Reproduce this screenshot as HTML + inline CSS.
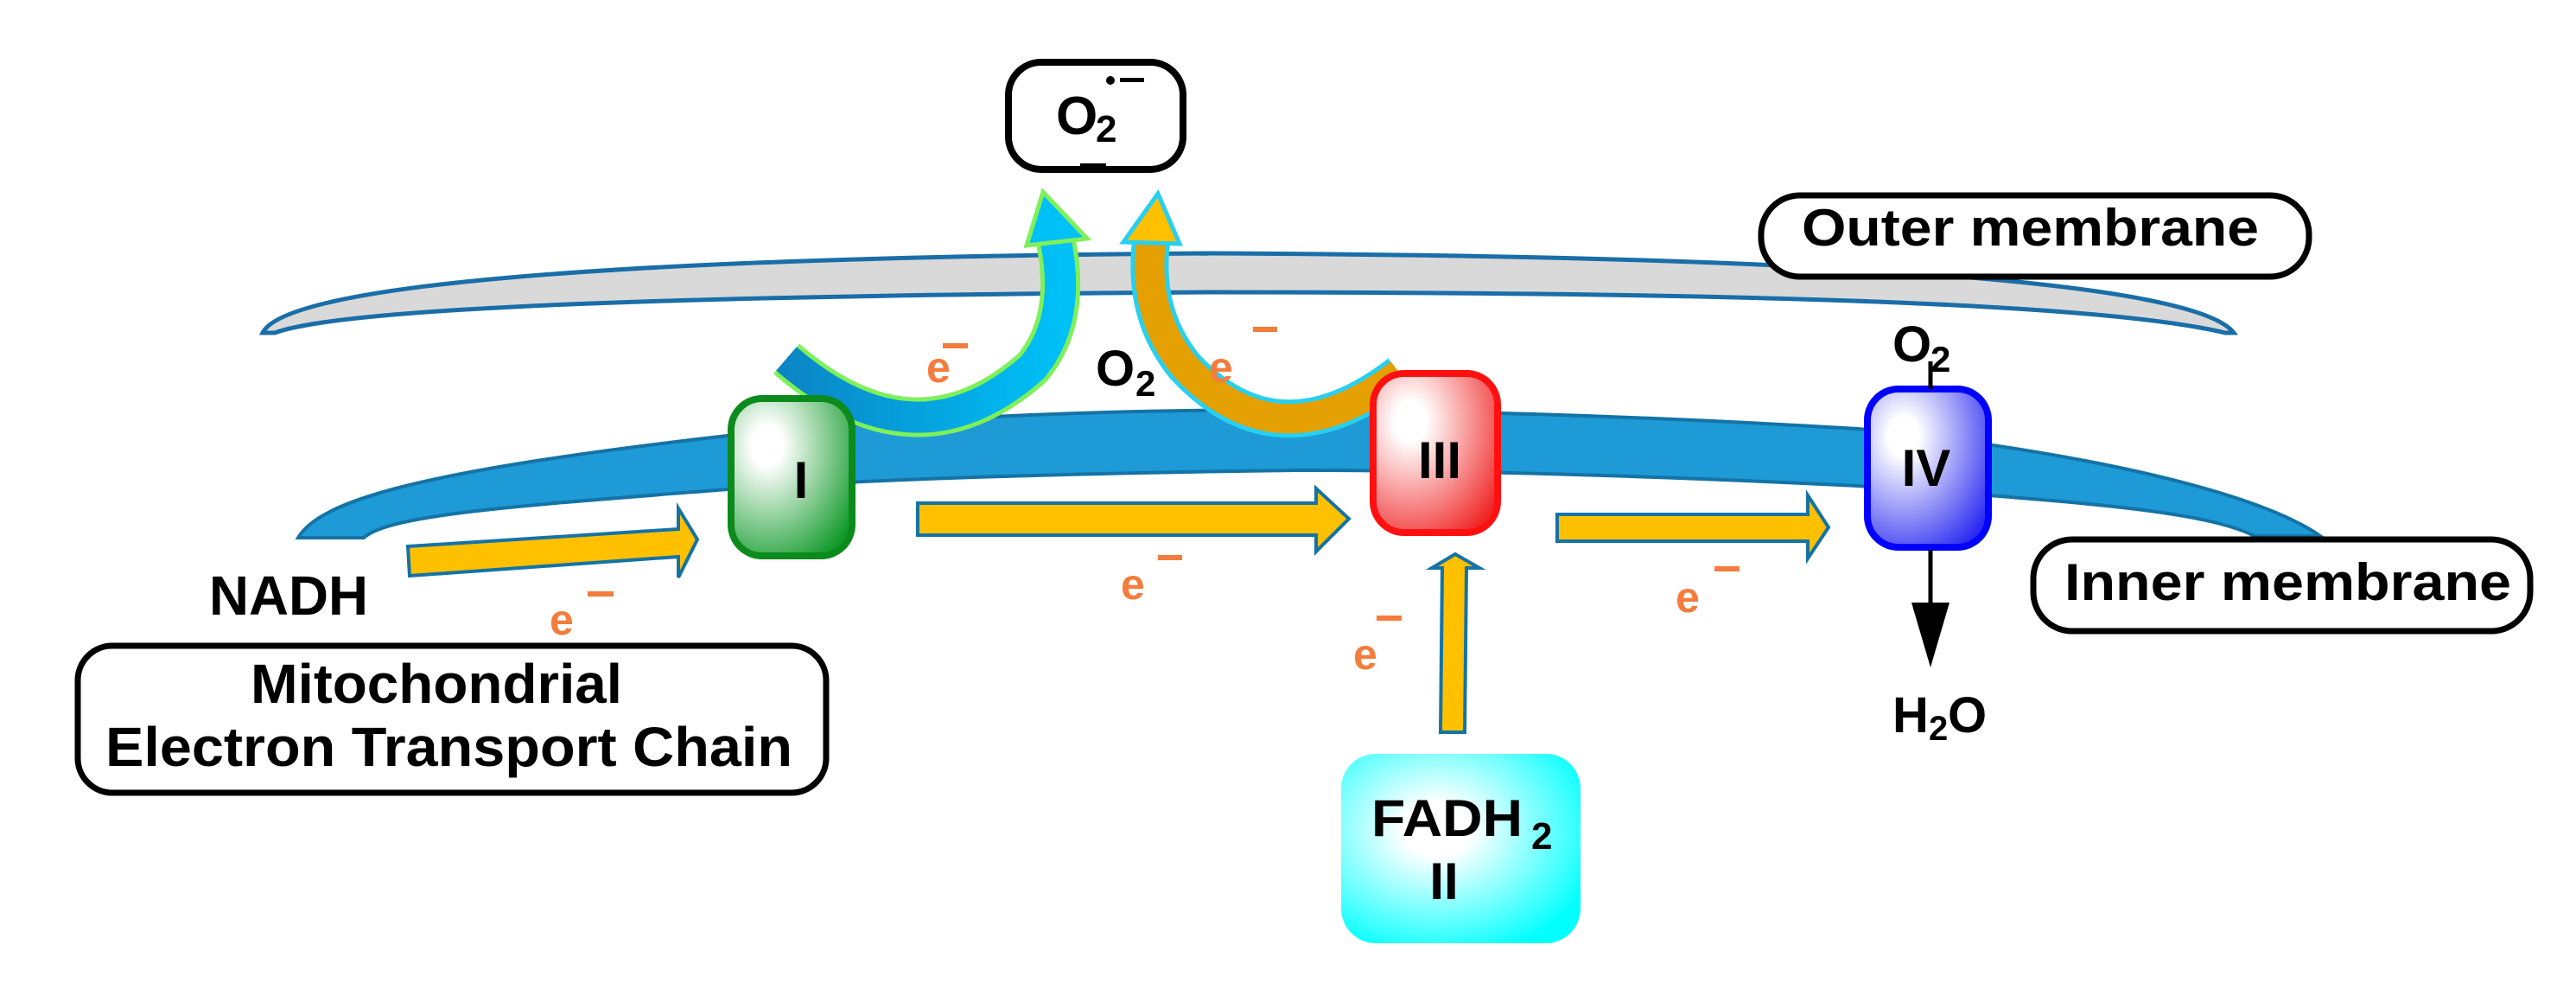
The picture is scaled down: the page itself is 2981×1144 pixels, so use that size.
<!DOCTYPE html>
<html><head><meta charset="utf-8"><style>
html,body{margin:0;padding:0;background:#fff;}
svg{display:block;}
text{font-family:"Liberation Sans",Arial,sans-serif;font-weight:bold;}
</style></head><body>
<svg width="2981" height="1144" viewBox="0 0 2981 1144" xmlns="http://www.w3.org/2000/svg">
<defs>
<radialGradient id="gI" cx="0.3" cy="0.3" r="0.85"><stop offset="0.15" stop-color="#fff"/><stop offset="1" stop-color="#119a2a"/></radialGradient>
<radialGradient id="gIII" cx="0.3" cy="0.3" r="0.85"><stop offset="0.15" stop-color="#fff"/><stop offset="1" stop-color="#f02828"/></radialGradient>
<radialGradient id="gIV" cx="0.3" cy="0.3" r="0.85"><stop offset="0.15" stop-color="#fff"/><stop offset="1" stop-color="#2a2af0"/></radialGradient>
<radialGradient id="gII" cx="0.4" cy="0.4" r="0.7"><stop offset="0.2" stop-color="#fff"/><stop offset="1" stop-color="#00ffff"/></radialGradient>
<linearGradient id="gL" x1="0" y1="0" x2="1" y2="0"><stop offset="0" stop-color="#0a86c4"/><stop offset="1" stop-color="#00c0f8"/></linearGradient>
</defs>

<!-- outer membrane -->
<path d="M304 385 C330 330 700 298 1398 293 C2100 296 2540 325 2585 385 L2575 385 C2450 355 2100 338 1398 338 C800 342 400 355 318 385 Z" fill="#d9d9d9" stroke="#1a6ea8" stroke-width="5"/>

<!-- inner membrane -->
<path d="M345 622 C370 580 480 545 842 504 C1100 480 1300 474 1500 474 C1800 476 2050 490 2150 496 C2350 515 2600 560 2685 620 L2609 620 C2550 590 2400 580 2150 562 C1900 550 1700 544 1500 544 C1200 548 1000 555 842 566 C600 585 450 595 421 622 Z" fill="#1e9ad6" stroke="#1473a6" stroke-width="4"/>

<!-- left curved arrow -->
<path d="M910 415 Q1060 545 1195 425 Q1240 370 1222 280" fill="none" stroke="#7ef05a" stroke-width="46" stroke-linecap="butt"/>
<path d="M910 415 Q1060 545 1195 425 Q1240 370 1222 280" fill="none" stroke="url(#gL)" stroke-width="36" stroke-linecap="butt"/>
<polygon points="1207,222 1188,284 1258,276" fill="#00c0f8" stroke="#7ef05a" stroke-width="5"/>

<!-- right curved arrow -->
<path d="M1620 432 Q1480 540 1372 425 Q1322 365 1332 280" fill="none" stroke="#27d0f0" stroke-width="44"/>
<path d="M1620 432 Q1480 540 1372 425 Q1322 365 1332 280" fill="none" stroke="#e3a000" stroke-width="34"/>
<polygon points="1340,224 1300,280 1365,282" fill="#ffc000" stroke="#27d0f0" stroke-width="5"/>

<!-- O2 superoxide box -->
<rect x="1167" y="72" width="202" height="124" rx="38" fill="#fff" stroke="#000" stroke-width="8"/>
<text x="1222" y="155" font-size="62">O</text>
<text x="1268" y="164" font-size="44">2</text>
<circle cx="1285" cy="93" r="5" fill="#000"/>
<rect x="1296" y="90" width="28" height="5" fill="#000"/>
<rect x="1250" y="189" width="30" height="5" fill="#000"/>

<!-- yellow arrows -->
<polygon points="472,632 785,612 785,588 807,624 785,668 785,644 474,666" fill="#ffc000" stroke="#1473a6" stroke-width="4"/>
<polygon points="1062,582 1523,582 1523,565 1561,600 1523,638 1523,619 1062,619" fill="#ffc000" stroke="#1473a6" stroke-width="4"/>
<polygon points="1802,595 2092,595 2092,573 2116,610 2092,646 2092,626 1802,626" fill="#ffc000" stroke="#1473a6" stroke-width="4"/>
<polygon points="1667,847 1669,657 1657,657 1684,641 1712,657 1697,657 1695,847" fill="#ffc000" stroke="#1473a6" stroke-width="4"/>

<!-- complexes -->
<rect x="846" y="461" width="140" height="182" rx="36" fill="url(#gI)" stroke="#0c8a1c" stroke-width="8"/>
<text x="927" y="576" font-size="60" text-anchor="middle">I</text>
<rect x="1589" y="432" width="144" height="184" rx="36" fill="url(#gIII)" stroke="#ff1010" stroke-width="8"/>
<text x="1666" y="553" font-size="60" text-anchor="middle">III</text>
<rect x="2161" y="450" width="140" height="183" rx="36" fill="url(#gIV)" stroke="#0000ff" stroke-width="8"/>
<text x="2229" y="562" font-size="60" text-anchor="middle">IV</text>

<!-- FADH2 box -->
<rect x="1552" y="872" width="277" height="219" rx="40" fill="url(#gII)"/>
<text x="1587" y="967" font-size="60" textLength="175" lengthAdjust="spacingAndGlyphs">FADH</text>
<text x="1772" y="982" font-size="44">2</text>
<text x="1671" y="1040" font-size="60" text-anchor="middle">II</text>

<!-- IV O2 / H2O -->
<line x1="2234" y1="418" x2="2234" y2="450" stroke="#000" stroke-width="5"/>
<text x="2190" y="418" font-size="58">O</text>
<text x="2234" y="430" font-size="42">2</text>
<line x1="2234" y1="636" x2="2234" y2="705" stroke="#000" stroke-width="5"/>
<polygon points="2212,697 2256,697 2234,772" fill="#000"/>
<text x="2190" y="847" font-size="58">H</text>
<text x="2232" y="856" font-size="40">2</text>
<text x="2254" y="847" font-size="58">O</text>

<!-- middle O2 -->
<text x="1268" y="446" font-size="58">O</text>
<text x="1314" y="458" font-size="42">2</text>

<!-- e- labels -->
<g fill="#f47c3c">
<text x="636" y="734" font-size="50">e</text><rect x="680" y="684" width="30" height="6"/>
<text x="1297" y="693" font-size="50">e</text><rect x="1340" y="642" width="28" height="6"/>
<text x="1939" y="708" font-size="50">e</text><rect x="1984" y="655" width="29" height="6"/>
<text x="1566" y="774" font-size="50">e</text><rect x="1593" y="712" width="29" height="6"/>
<text x="1072" y="442" font-size="50">e</text><rect x="1091" y="397" width="29" height="6"/>
<text x="1399" y="442" font-size="50">e</text><rect x="1450" y="378" width="28" height="6"/>
</g>

<!-- NADH -->
<text x="242" y="711" font-size="64" textLength="184" lengthAdjust="spacingAndGlyphs">NADH</text>

<!-- Mitochondrial box -->
<rect x="90" y="747" width="866" height="170" rx="40" fill="#fff" stroke="#000" stroke-width="7"/>
<text x="290" y="813" font-size="64" textLength="430" lengthAdjust="spacingAndGlyphs">Mitochondrial</text>
<text x="122" y="886" font-size="64" textLength="795" lengthAdjust="spacingAndGlyphs">Electron Transport Chain</text>

<!-- Outer membrane box -->
<rect x="2038" y="226" width="634" height="94" rx="45" fill="#fff" stroke="#000" stroke-width="7"/>
<text x="2085" y="284" font-size="60" textLength="529" lengthAdjust="spacingAndGlyphs">Outer membrane</text>

<!-- Inner membrane box -->
<rect x="2353" y="624" width="575" height="106" rx="45" fill="#fff" stroke="#000" stroke-width="7"/>
<text x="2389" y="694" font-size="60" textLength="517" lengthAdjust="spacingAndGlyphs">Inner membrane</text>
</svg>
</body></html>
